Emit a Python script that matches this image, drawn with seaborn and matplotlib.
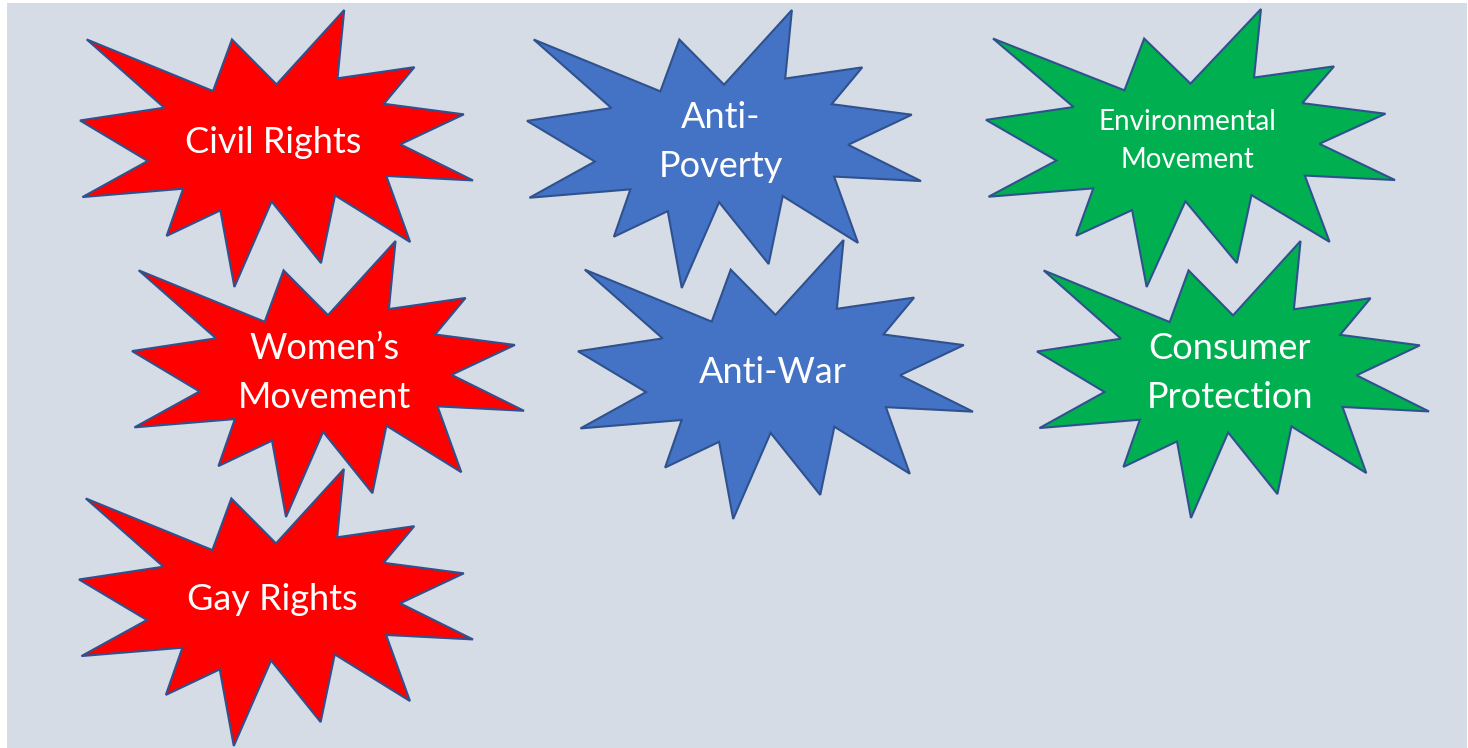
import numpy as np
import seaborn as sns
import matplotlib.pyplot as plt
from matplotlib.patches import Rectangle

# Các phong trào và nhóm màu
movements = ["Civil Rights", "Women\u2019s\nMovement", "Gay Rights",
             "Anti-\nPoverty", "Anti-War",
             "Environmental\nMovement", "Consumer\nProtection"]
groups = ["rights", "rights", "rights", "peace", "peace", "protect", "protect"]
palette = {"rights": "#FF0000", "peace": "#4472C4", "protect": "#00B050"}

# Bố cục: khung (trái, trên, phải, dưới) theo pixel, tâm chữ, cỡ chữ
boxes = [(80, 10, 473, 287), (132, 241, 524, 517), (79, 469, 473, 746),
         (527, 10, 921, 288), (578, 240, 973, 519),
         (986, 9, 1395, 287), (1037, 241, 1429, 518)]
text_xy = [(273, 142), (324, 373), (272, 600),
           (721, 142), (773, 372),
           (1187, 141), (1230, 373)]
font_sizes = [26, 26, 26, 26, 26, 20, 26]
line_sp = [1.6, 1.6, 1.6, 1.6, 1.6, 1.55, 1.6]

# Hình ngôi sao nổ (Explosion 1) trong hệ 21600
seal = np.array([
    (10800, 5800), (14522, 0), (14155, 5325), (18380, 4457), (16702, 7315),
    (21097, 8137), (17607, 10475), (21600, 13290), (16837, 12942),
    (18145, 18095), (14020, 14457), (13247, 19737), (10532, 14935),
    (8485, 21600), (7715, 15627), (4762, 17617), (5667, 13937),
    (135, 14587), (3722, 11775), (0, 8615), (4627, 7617), (370, 2295),
    (7312, 6320), (8352, 2295)]) / 21600.0

sns.set_theme(style="white")
plt.rcParams['font.family'] = ['Lato', 'DejaVu Sans']

fig = plt.figure(figsize=(14.68, 7.48), dpi=100)
ax = fig.add_axes([0, 0, 1, 1])
ax.set_xlim(0, 1468)
ax.set_ylim(748, 0)
ax.axis("off")

ax.add_patch(Rectangle((7, 3), 1460, 745, facecolor="#D6DCE5", edgecolor="none", zorder=0))

for label, grp, (x0, y0, x1, y1), (tx, ty), fs, ls in zip(movements, groups, boxes, text_xy,
                                                          font_sizes, line_sp):
    xs = x0 + seal[:, 0] * (x1 - x0)
    ys = y0 + seal[:, 1] * (y1 - y0)
    ax.fill(xs, ys, facecolor=palette[grp], edgecolor="#2F528F", linewidth=1.5,
            joinstyle="miter", zorder=2)
    ax.text(tx, ty, label, color="white", fontsize=fs, ha="center", va="center",
            multialignment="center", linespacing=ls, zorder=3)

plt.savefig("out.png", dpi=100)
